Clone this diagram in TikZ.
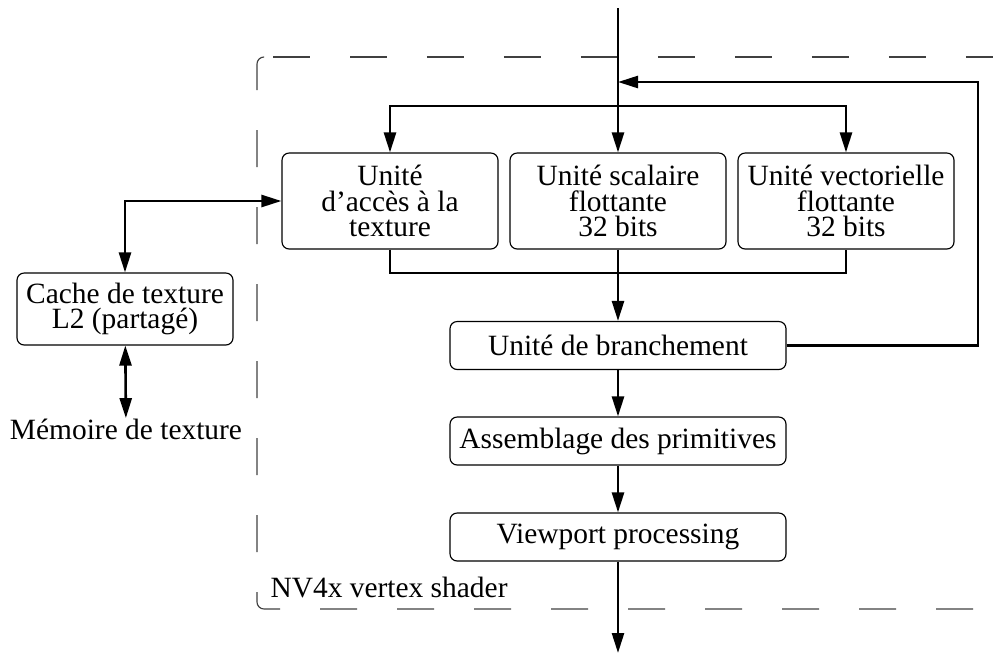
\documentclass[tikz,border=0pt]{standalone}
\usepackage{fontspec}
\setmainfont{Liberation Serif}
\usetikzlibrary{arrows.meta}

\begin{document}
\begin{tikzpicture}[
        x=0.35pt, y=-0.35pt,
        every node/.style={font=\fontsize{10.3}{8.8}\selectfont, align=center, inner sep=0pt},
        unit/.style={draw, line width=0.4pt, rounded corners=2.5pt, minimum width=75.6pt},
        three/.style={unit, minimum height=33.6pt},
        two/.style={unit, minimum height=25.2pt},
        one/.style={unit, minimum width=117.6pt, minimum height=16.8pt},
        flow/.style={line width=0.9pt, -{Triangle[length=7pt,width=4.2pt]}},
        both/.style={line width=0.9pt, {Triangle[length=7pt,width=4.2pt]}-{Triangle[length=7pt,width=4.2pt]}},
        frame/.style={line width=0.4pt, black!75, dash pattern=on 12.95pt off 14pt},
    ]
    \useasboundingbox (0,0) rectangle (993,655);

    % shader frame
    \draw[frame, rounded corners=2.45pt] (264,57) -- (257,57) -- (257,609) -- (993,609);
    \draw[frame] (273,57) -- (993,57);
    \node[anchor=base west] (shader) at (270,597) {NV4x vertex shader};

    % units
    \node[three] (tex) at (390,201) {Unité\\d’accès à la\\texture};
    \node[three] (sca) at (618,201) {Unité scalaire\\flottante\\32 bits};
    \node[three] (vec) at (846,201) {Unité vectorielle\\flottante\\32 bits};
    \node[one] (bra) at (618,345.5) {Unité de branchement};
    \node[one] (asm) at (618,441) {Assemblage des primitives};
    \node[one] (vp) at (618,537) {Viewport processing};

    % texture side
    \node[two] (cache) at (125,309) {Cache de texture\\L2 (partagé)};
    \node (mem) at (126,429) {Mémoire de texture};

    \coordinate (in) at (618,8);
    \coordinate (split) at (618,106);
    \coordinate (merge) at (618,273);
    \coordinate (back) at (978,82);
    \coordinate (out) at (618,653);

    % flow
    \draw[flow] (in) -- (sca);
    \draw[flow] (split) -| (tex.north);
    \draw[flow] (split) -| (vec.north);
    \draw[line width=0.9pt] (tex.south) |- (merge) -| (vec.south);
    \draw[flow] (sca) -- (bra);
    \draw[flow] (bra.east) -| (back) -- (in |- back);
    \draw[flow] (bra) -- (asm);
    \draw[flow] (asm) -- (vp);
    \draw[flow] (vp) -- (out);
    \draw[both] (cache.north) |- (tex.west);
    \draw[both] (cache) -- (mem);
\end{tikzpicture}
\end{document}
